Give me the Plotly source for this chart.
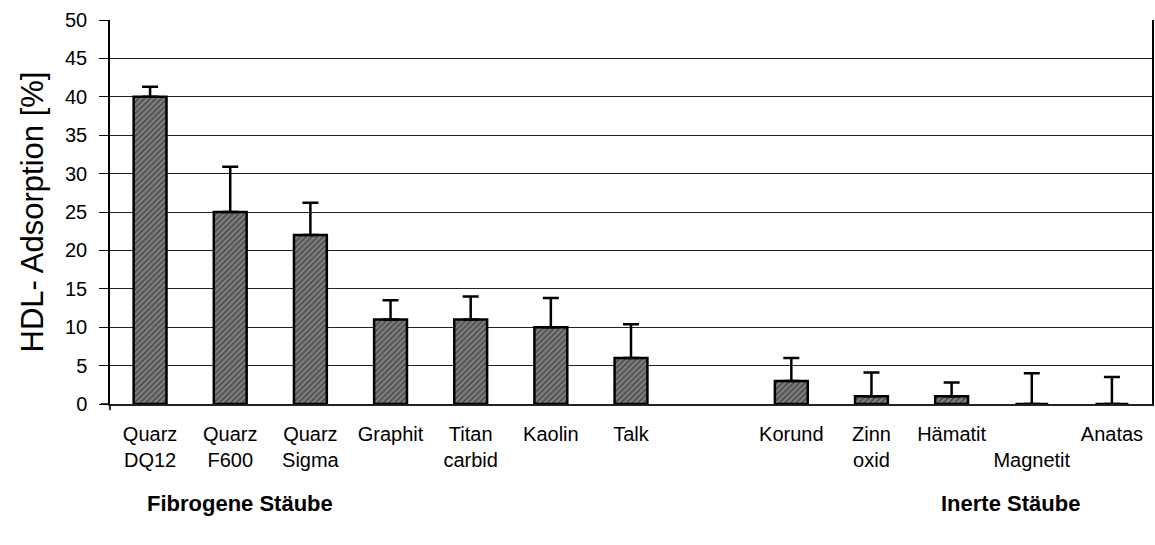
import plotly.graph_objects as go

categories = ["Quarz<br>DQ12", "Quarz<br>F600", "Quarz<br>Sigma", "Graphit", "Titan<br>carbid",
              "Kaolin", "Talk", " ", "Korund", "Zinn<br>oxid", "Hämatit", "<br>Magnetit", "Anatas"]
values = [40, 25, 22, 11, 11, 10, 6, None, 3, 1, 1, 0, 0]
errors_plus = [1.3, 5.9, 4.2, 2.5, 3.0, 3.8, 4.4, None, 3.0, 3.1, 1.8, 4.0, 3.5]
y_ticks = list(range(0, 51, 5))
group_labels = ["Fibrogene Stäube", "Inerte Stäube"]
y_title = "HDL- Adsorption [%]"

FONT = "Liberation Sans, Arial, sans-serif"

fig = go.Figure()
fig.add_trace(go.Bar(
    x=categories, y=values, width=0.41,
    marker=dict(color="#666666",
                line=dict(color="black", width=2.5),
                pattern=dict(shape="/", fgcolor="#1a1a1a", bgcolor="#808080", size=4, solidity=0.45)),
    error_y=dict(type="data", array=errors_plus, arrayminus=[0]*len(errors_plus), symmetric=False,
                 color="black", thickness=2.5, width=8),
))

fig.update_layout(
    width=1155, height=545,
    margin=dict(l=110, r=3, t=20, b=141),
    paper_bgcolor="white", plot_bgcolor="white",
    showlegend=False,
    font=dict(family=FONT, color="black"),
)
fig.update_xaxes(
    categoryorder="array", categoryarray=categories,
    showgrid=False, showline=True, linecolor="#222", linewidth=1.5,
    ticks="", tickfont=dict(size=20), ticklabelstandoff=11,
    zeroline=False, automargin=False,
)
fig.update_yaxes(
    range=[0, 50], tickvals=y_ticks, ticks="outside", ticklen=9, tickcolor="black", tickwidth=1,
    showline=True, linecolor="black", linewidth=1.5, mirror=True,
    showgrid=True, gridcolor="#222", gridwidth=1,
    tickfont=dict(size=20), ticklabelstandoff=8, zeroline=False, automargin=False,
    title=dict(text=y_title, font=dict(size=31), standoff=12),
)
fig.add_shape(type="line", xref="paper", yref="paper", x0=0, x1=0, y0=0, y1=-0.016,
              line=dict(color="black", width=1.5))
fig.add_shape(type="line", xref="paper", yref="paper", x0=-0.009, x1=0, y0=0, y1=0,
              line=dict(color="black", width=1.5))
fig.add_annotation(text=group_labels[0], xref="paper", yref="paper", x=0.125, y=-0.258,
                   showarrow=False, font=dict(size=22, family=FONT, weight="bold"),
                   yanchor="middle", xanchor="center")
fig.add_annotation(text=group_labels[1], xref="paper", yref="paper", x=0.864, y=-0.258,
                   showarrow=False, font=dict(size=22, family=FONT, weight="bold"),
                   yanchor="middle", xanchor="center")
fig.write_html("out.html", config={"displayModeBar": False},
               post_script="document.body.style.margin='0';document.body.style.overflow='hidden';")
